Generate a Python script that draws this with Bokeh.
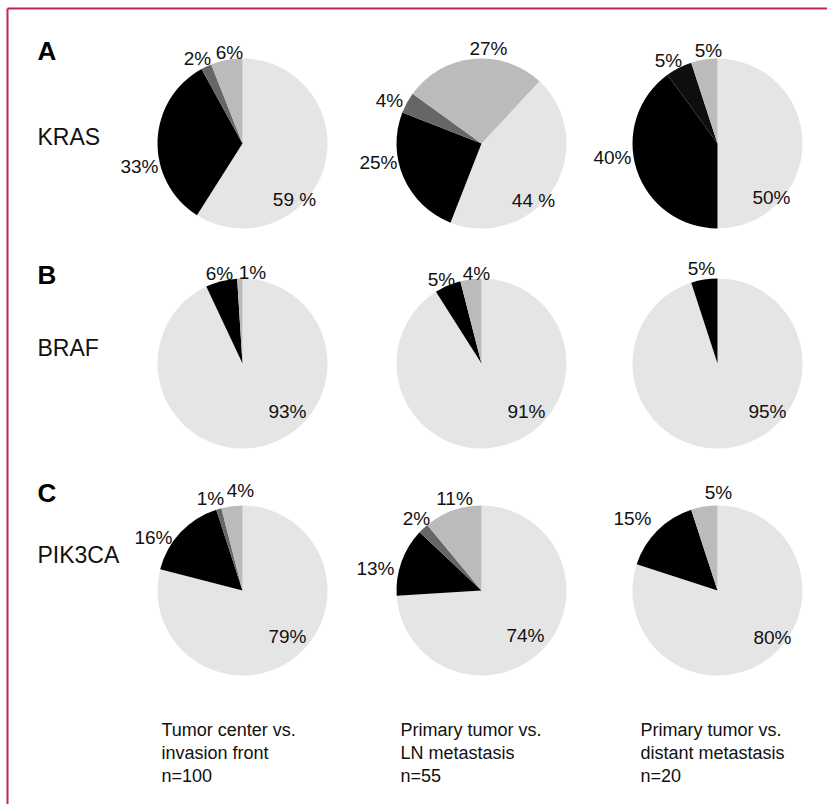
import numpy as np
from bokeh.plotting import figure
from bokeh.models import Range1d, ColumnDataSource
from bokeh.core.properties import value
from bokeh.embed import file_html
from bokeh.resources import INLINE

# ---------------- data ----------------
panel_letters = ["A", "B", "C"]
genes = ["KRAS", "BRAF", "PIK3CA"]
comparison_lines = [
    ["Tumor center vs.", "invasion front", "n=100"],
    ["Primary tumor vs.", "LN metastasis", "n=55"],
    ["Primary tumor vs.", "distant metastasis", "n=20"],
]

kras_values = [[59, 33, 2, 6], [44, 25, 4, 27], [50, 40, 5, 5]]
braf_values = [[93, 6, 1], [91, 5, 4], [95, 5]]
pik3ca_values = [[79, 16, 1, 4], [74, 13, 2, 11], [80, 15, 5]]

kras_labels = [["59 %", "33%", "2%", "6%"], ["44 %", "25%", "4%", "27%"], ["50%", "40%", "5%", "5%"]]
braf_labels = [["93%", "6%", "1%"], ["91%", "5%", "4%"], ["95%", "5%"]]
pik3ca_labels = [["79%", "16%", "1%", "4%"], ["74%", "13%", "2%", "11%"], ["80%", "15%", "5%"]]

# ---------------- style / layout ----------------
L, B, D, M, NB = "#e5e5e5", "#000000", "#666666", "#bbbbbb", "#0e0e0e"
kras_colors = [[L, B, D, M], [L, B, D, M], [L, B, NB, M]]
braf_colors = [[L, B, M], [L, B, M], [L, B]]
pik3ca_colors = [[L, B, D, M], [L, B, D, M], [L, B, M]]

W, H = 827, 804
COL_X = [242, 481, 717]
ROW_Y = [143, 363, 590]
RADIUS = 85
START_DEG = [[0, 43, 0], [0, 0, 0], [0, 0, 0]]  # clockwise from 12 o'clock

kras_off = [[(52, 56), (-103, 23), (-45, -85), (-13, -91)],
            [(52, 57), (-103, 19), (-92, -43), (7, -95)],
            [(54, 54), (-105, 14), (-49, -83), (-9, -93)]]
braf_off = [[(45, 48), (-23, -90), (10, -91)],
            [(45, 48), (-40, -84), (-5, -90)],
            [(50, 48), (-16, -95)]]
pik3ca_off = [[(45, 46), (-89, -53), (-32, -92), (-2, -100)],
              [(44, 45), (-106, -22), (-65, -72), (-27, -92)],
              [(55, 47), (-85, -72), (1, -98)]]

FONT = value("Liberation Sans")

p = figure(width=W, height=H, x_range=Range1d(0, W), y_range=Range1d(0, H),
           output_backend="svg", toolbar_location=None, min_border=0)
p.axis.visible = False
p.grid.visible = False
p.outline_line_color = None
p.background_fill_color = "white"
p.border_fill_color = "white"


def Y(ypx):
    return H - ypx


rows = [(kras_values, kras_labels, kras_colors, kras_off),
        (braf_values, braf_labels, braf_colors, braf_off),
        (pik3ca_values, pik3ca_labels, pik3ca_colors, pik3ca_off)]

for r, (vals_all, labs_all, cols_all, offs_all) in enumerate(rows):
    for c in range(3):
        vals = np.array(vals_all[c], dtype=float)
        frac = vals / vals.sum()
        cum = np.concatenate([[0], np.cumsum(frac)]) * 360 + START_DEG[r][c]
        th1, th2 = cum[:-1], cum[1:]
        src = ColumnDataSource(dict(
            x=[COL_X[c]] * len(vals), y=[Y(ROW_Y[r])] * len(vals),
            start=np.deg2rad(90 - th2), end=np.deg2rad(90 - th1),
            color=cols_all[c]))
        p.wedge(x="x", y="y", radius=RADIUS, start_angle="start", end_angle="end",
                direction="anticlock", fill_color="color", line_color=None, source=src)
        offs = offs_all[c]
        tsrc = ColumnDataSource(dict(
            x=[COL_X[c] + o[0] for o in offs],
            y=[Y(ROW_Y[r] + o[1]) for o in offs],
            text=labs_all[c]))
        p.text(x="x", y="y", text="text", source=tsrc, text_font=FONT,
               text_font_size="19px", text_align="center", text_baseline="middle",
               text_color="#111111")

# panel letters and gene names
LETTER_Y = [50, 274, 492]
GENE_Y = [136, 347, 554]
p.text(x=[37] * 3, y=[Y(v) for v in LETTER_Y], text=panel_letters, text_font=FONT,
       text_font_size="26px", text_font_style="bold", text_align="left",
       text_baseline="middle", text_color="#000000")
p.text(x=[37] * 3, y=[Y(v) for v in GENE_Y], text=genes, text_font=FONT,
       text_font_size="23px", text_align="left", text_baseline="middle",
       text_color="#111111")

# comparison captions
CAP_X = [161, 400, 640]
CAP_Y = [729, 752, 775]
for c in range(3):
    p.text(x=[CAP_X[c]] * 3, y=[Y(v) for v in CAP_Y], text=comparison_lines[c],
           text_font=FONT, text_font_size="18px", text_align="left",
           text_baseline="middle", text_color="#111111")

# frame lines (top and left)
p.segment(x0=[7, 7], y0=[Y(8), Y(8)], x1=[W, 7], y1=[Y(8), 0],
          line_color="#c2254e", line_width=2)

open("out.html", "w").write(file_html(p, INLINE))
